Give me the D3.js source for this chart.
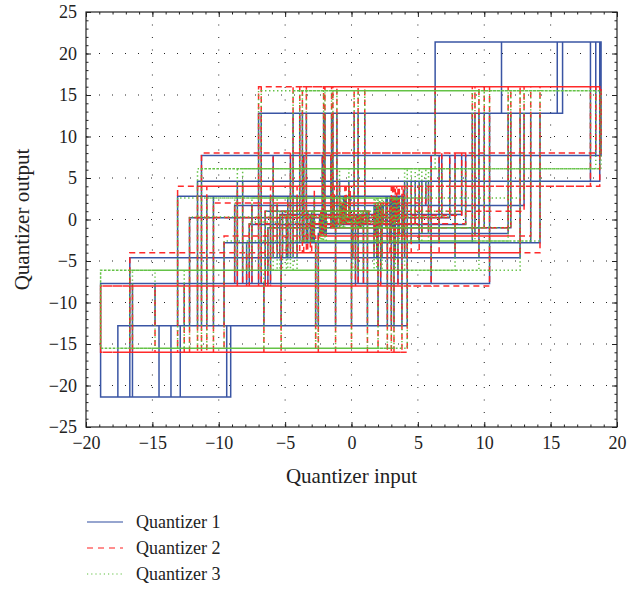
<!DOCTYPE html>
<html>
<head>
<meta charset="utf-8">
<script src="https://cdn.jsdelivr.net/npm/d3@7"></script>
<style>
  html, body { margin: 0; padding: 0; background: #fff; }
  svg text { font-family: "Liberation Serif", "DejaVu Serif", serif; fill: #222; }
</style>
</head>
<body>
<svg id="chart" width="642" height="591"></svg>
<script>
// Input sequence fed to the three quantizers (shared), in time order
const inputs = [
  0.3, -1.2, 2.1, -0.6, 0.9, -2.3, 5.3, 18.7, 6.3, -11.3,
  3.2, -2.8, 13.5, -6.8, 0.5, 8.3, 18.4, 11.3, -3.4, -7.9,
  -18.9, -9.1, -17.6, -13.6, 4.2, -0.9, 2.6, -4.8, 9.6, -1.4,
  0.7, -4.9, 12.7, -2.1, 3.6, -0.4, 1.1, -3.0, 14.2, -3.9,
  5.1, -0.2, 2.4, -5.6, 7.8, 18.8, 15.9, 0.2, -12.2, 2.0,
  5.6, 18.0, 15.5, -4.4, 1.9, -0.8, 4.8, -8.2, 10.4, -1.5,
  0.6, -3.1, 2.9, -10.4, 1.2, -5.2, 0.1, -0.3, 1.3, -1.9,
  3.9, -6.1, 2.2, -0.7, 0.4, -2.4, 1.8, -7.5, -18.9, -9.4,
  3.0, -0.5, 0.8, -2.9, 9.1, -1.1, -6.3, -16.5, -14.5, 3.8,
  -0.1, 3.4, -4.1, -5.0, -16.7, -12.9, 0.0, 6.8, -2.2, 11.8,
  1.0, -6.5, 3.5, -1.3, 10.0, -3.7, 4.5, -11.6, 2.7, -0.6,
  8.6, -5.9, 1.7, 13.0, -2.0, 5.8, -8.6, 0.3, 7.4, -4.6,
  2.3, -0.9, 12.0, -7.0, 0.9, -3.3, 6.6, -1.55, 3.1, -10.9,
  -2.5, 9.3, 0.5, -5.4, 4.0, -0.2, 2.0, -8.8, 6.0, -3.6,
  1.2, -0.4, -7.7, -12.6, -2.7, -9.6, -6.6, -14.8, -5.3, 3.3,
  -13.1, -1.2
];

// Quantizer 1 output for each input
const q1 = [
  0.2, -1.0, 1.7, -0.6, 1.0, -1.7, 4.6, 21.4, 7.7, -12.8,
  2.8, -2.8, 12.8, -7.7, 0.6, 7.7, 21.4, 12.8, -2.8, -7.7,
  -21.4, -12.8, -21.4, -12.8, 4.6, -1.0, 2.8, -4.6, 12.8, -1.0,
  0.6, -4.6, 12.8, -1.7, 2.8, -0.6, 1.0, -2.8, 12.8, -2.8,
  4.6, -0.2, 1.7, -4.6, 7.7, 21.4, 12.8, 0.2, -12.8, 1.7,
  4.6, 21.4, 12.8, -4.6, 1.7, -0.6, 4.6, -7.7, 12.8, -1.0,
  0.6, -2.8, 2.8, -12.8, 1.0, -4.6, 0.2, -0.2, 1.0, -1.7,
  2.8, -7.7, 1.7, -0.6, 0.6, -1.7, 1.7, -7.7, -21.4, -12.8,
  2.8, -0.6, 0.6, -2.8, 12.8, -1.0, -7.7, -21.4, -12.8, 2.8,
  -0.2, 2.8, -4.6, -4.6, -21.4, -12.8, 0.2, 7.7, -1.7, 12.8,
  1.0, -7.7, 2.8, -1.0, 12.8, -2.8, 4.6, -12.8, 2.8, -0.6,
  7.7, -4.6, 1.7, 12.8, -1.7, 4.6, -7.7, 0.2, 7.7, -4.6,
  1.7, -1.0, 12.8, -7.7, 1.0, -2.8, 7.7, -1.0, 2.8, -12.8,
  -1.7, 12.8, 0.6, -4.6, 4.6, -0.2, 1.7, -7.7, 7.7, -2.8,
  1.0, -0.6, -7.7, -12.8, -2.8, -12.8, -7.7, -12.8, -4.6, 2.8,
  -12.8, -1.0
];

// Quantizer 2 output for each input
const q2 = [
  0.25, -1, 2, -0.5, 1, -2, 4, 16, 8, -16,
  4, -2, 16, -8, 0.5, 8, 16, 16, -4, -8,
  -16, -16, -16, -16, 4, -1, 2, -4, 16, -1,
  0.5, -4, 16, -2, 4, -0.5, 1, -4, 16, -4,
  4, -0.25, 2, -4, 8, 16, 16, 0.25, -16, 2,
  4, 16, 16, -4, 2, -0.5, 4, -8, 16, -1,
  0.5, -4, 2, -16, 1, -4, 0.25, -0.25, 1, -2,
  4, -8, 2, -0.5, 0.5, -2, 2, -8, -16, -16,
  4, -0.5, 0.5, -2, 16, -1, -8, -16, -16, 4,
  -0.25, 4, -4, -4, -16, -16, 0.25, 8, -2, 16,
  1, -8, 4, -1, 16, -4, 4, -16, 2, -0.5,
  8, -4, 1, 16, -2, 4, -8, 0.25, 8, -4,
  2, -1, 16, -8, 1, -4, 8, -1, 4, -16,
  -2, 16, 0.5, -4, 4, -0.25, 2, -8, 8, -4,
  1, -0.5, -8, -16, -2, -16, -8, -16, -4, 4,
  -16, -1
];

// Quantizer 3 output for each input
const q3 = [
  0.3, -1.0, 2.6, -1.0, 1.0, -2.6, 6.1, 15.5, 6.1, -15.5,
  2.6, -2.6, 15.5, -6.1, 1.0, 6.1, 15.5, 15.5, -2.6, -6.1,
  -15.5, -15.5, -15.5, -15.5, 6.1, -1.0, 2.6, -6.1, 15.5, -1.0,
  1.0, -6.1, 15.5, -2.6, 2.6, -0.3, 1.0, -2.6, 15.5, -2.6,
  6.1, -0.3, 2.6, -6.1, 6.1, 15.5, 15.5, 0.3, -15.5, 2.6,
  6.1, 15.5, 15.5, -6.1, 2.6, -1.0, 6.1, -6.1, 15.5, -1.0,
  1.0, -2.6, 2.6, -15.5, 1.0, -6.1, 0.3, -0.3, 1.0, -2.6,
  2.6, -6.1, 2.6, -1.0, 0.3, -2.6, 2.6, -6.1, -15.5, -15.5,
  2.6, -1.0, 1.0, -2.6, 15.5, -1.0, -6.1, -15.5, -15.5, 2.6,
  -0.3, 2.6, -6.1, -6.1, -15.5, -15.5, 0.3, 6.1, -2.6, 15.5,
  1.0, -6.1, 2.6, -1.0, 15.5, -2.6, 6.1, -15.5, 2.6, -1.0,
  6.1, -6.1, 2.6, 15.5, -2.6, 6.1, -6.1, 0.3, 6.1, -6.1,
  2.6, -1.0, 15.5, -6.1, 1.0, -2.6, 6.1, -1.0, 2.6, -15.5,
  -2.6, 15.5, 1.0, -6.1, 6.1, -0.3, 2.6, -6.1, 6.1, -2.6,
  1.0, -0.3, -6.1, -15.5, -2.6, -15.5, -6.1, -15.5, -6.1, 2.6,
  -15.5, -1.0
];

const seriesNames = ["Quantizer 1", "Quantizer 2", "Quantizer 3"];
const xTicks = [-20, -15, -10, -5, 0, 5, 10, 15, 20];
const yTicks = [-25, -20, -15, -10, -5, 0, 5, 10, 15, 20, 25];

const styles = [
  { color: "#2f4c9f", dash: null, width: 1.5 },
  { color: "#ff1f1f", dash: "6,4", width: 1.5 },
  { color: "#5cbf3c", dash: "1.4,2.6", width: 1.5 }
];

const svg = d3.select("#chart");
const pLeft = 86, pRight = 617, pTop = 12, pBottom = 427;

const x = d3.scaleLinear().domain([-20, 20]).range([pLeft, pRight]);
const y = d3.scaleLinear().domain([-25, 25]).range([pBottom, pTop]);

const fmt = d => (d < 0 ? "\u2212" + Math.abs(d) : String(d));

// dotted grid
const grid = svg.append("g");
xTicks.slice(1, -1).forEach(t => {
  grid.append("line").attr("x1", x(t)).attr("x2", x(t)).attr("y1", pTop).attr("y2", pBottom)
    .attr("stroke", "#222").attr("stroke-width", 1).attr("stroke-dasharray", "1,11.5");
});
yTicks.slice(1, -1).forEach(t => {
  grid.append("line").attr("x1", pLeft).attr("x2", pRight).attr("y1", y(t)).attr("y2", y(t))
    .attr("stroke", "#222").attr("stroke-width", 1).attr("stroke-dasharray", "1,12");
});

// stair traces: horizontal at each output level, then a jump to the next input
const dataSets = [q1, q2, q3];
const plot = svg.append("g");
dataSets.forEach((qs, k) => {
  const pts = inputs.map((v, i) => [v, qs[i]]);
  const line = d3.line().x(d => x(d[0])).y(d => y(d[1])).curve(d3.curveStepAfter);
  plot.append("path")
    .attr("d", line(pts))
    .attr("fill", "none")
    .attr("stroke", styles[k].color)
    .attr("stroke-width", styles[k].width)
    .attr("stroke-dasharray", styles[k].dash)
    .attr("stroke-opacity", 0.95);
});

// axes with inward ticks on all four sides
const minorX = d3.range(-20, 20.01, 1);
const minorY = d3.range(-25, 25.01, 1);

function styleAxis(g) {
  g.select(".domain").remove();
  g.selectAll(".tick line").attr("stroke", "#222");
}

svg.append("g").attr("transform", `translate(0,${pBottom})`)
  .call(d3.axisBottom(x).tickValues(xTicks).tickSizeInner(-5).tickSizeOuter(0).tickPadding(9).tickFormat(fmt))
  .call(styleAxis)
  .call(g => g.selectAll("text").attr("font-size", 18).attr("fill", "#222"));
svg.append("g").attr("transform", `translate(0,${pBottom})`)
  .call(d3.axisBottom(x).tickValues(minorX).tickSizeInner(-2.5).tickSizeOuter(0).tickFormat(""))
  .call(styleAxis);
svg.append("g").attr("transform", `translate(0,${pTop})`)
  .call(d3.axisTop(x).tickValues(xTicks).tickSizeInner(-5).tickSizeOuter(0).tickFormat(""))
  .call(styleAxis);
svg.append("g").attr("transform", `translate(0,${pTop})`)
  .call(d3.axisTop(x).tickValues(minorX).tickSizeInner(-2.5).tickSizeOuter(0).tickFormat(""))
  .call(styleAxis);

svg.append("g").attr("transform", `translate(${pLeft},0)`)
  .call(d3.axisLeft(y).tickValues(yTicks).tickSizeInner(-5).tickSizeOuter(0).tickPadding(9).tickFormat(fmt))
  .call(styleAxis)
  .call(g => g.selectAll("text").attr("font-size", 18).attr("fill", "#222"));
svg.append("g").attr("transform", `translate(${pLeft},0)`)
  .call(d3.axisLeft(y).tickValues(minorY).tickSizeInner(-2.5).tickSizeOuter(0).tickFormat(""))
  .call(styleAxis);
svg.append("g").attr("transform", `translate(${pRight},0)`)
  .call(d3.axisRight(y).tickValues(yTicks).tickSizeInner(-5).tickSizeOuter(0).tickFormat(""))
  .call(styleAxis);
svg.append("g").attr("transform", `translate(${pRight},0)`)
  .call(d3.axisRight(y).tickValues(minorY).tickSizeInner(-2.5).tickSizeOuter(0).tickFormat(""))
  .call(styleAxis);

// frame
svg.append("rect").attr("x", pLeft).attr("y", pTop).attr("width", pRight - pLeft).attr("height", pBottom - pTop)
  .attr("fill", "none").attr("stroke", "#222").attr("stroke-width", 1.2);

// axis titles
svg.append("text").attr("x", (pLeft + pRight) / 2).attr("y", 483).attr("text-anchor", "middle")
  .attr("font-size", 21).text("Quantizer input");
svg.append("text").attr("transform", `translate(29,${(pTop + pBottom) / 2}) rotate(-90)`)
  .attr("text-anchor", "middle").attr("font-size", 21).text("Quantizer output");

// legend
const legend = svg.append("g");
seriesNames.forEach((name, k) => {
  const ly = 522 + k * 26;
  legend.append("line").attr("x1", 87).attr("x2", 123).attr("y1", ly).attr("y2", ly)
    .attr("stroke", styles[k].color).attr("stroke-width", 1.2)
    .attr("stroke-dasharray", k === 1 ? "6,5" : (k === 2 ? "1.2,3" : null));
  legend.append("text").attr("x", 136).attr("y", ly + 6).attr("font-size", 18).text(name);
});
</script>
</body>
</html>
